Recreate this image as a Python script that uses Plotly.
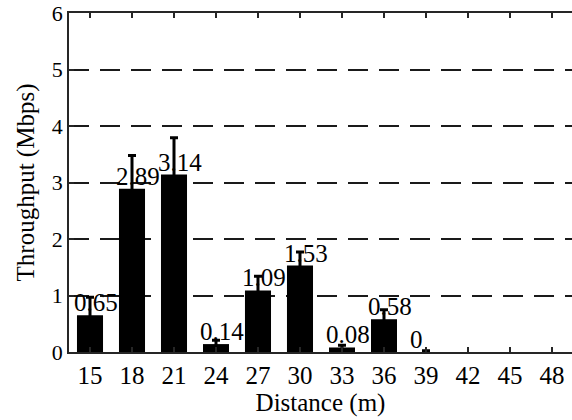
import plotly.graph_objects as go

distances = [15, 18, 21, 24, 27, 30, 33, 36, 39, 42, 45, 48]
throughput = [0.65, 2.89, 3.14, 0.14, 1.09, 1.53, 0.08, 0.58, 0, None, None, None]
errors = [0.32, 0.59, 0.65, 0.07, 0.25, 0.24, 0.04, 0.17, 0.02, None, None, None]
labels = ["0.65", "2.89", "3.14", "0.14", "1.09", "1.53", "0.08", "0.58", "0"]

FONT = "'Liberation Serif', 'Times New Roman', 'DejaVu Serif', serif"
FS = 25

fig = go.Figure()
fig.add_trace(go.Bar(
    x=distances, y=throughput, width=1.86,
    marker=dict(color="black", line=dict(width=0)),
    error_y=dict(type="data", array=errors, visible=True, color="black",
                 thickness=3, width=4),
))

for d, v, t in zip(distances, throughput, labels):
    fig.add_annotation(x=d, y=v, text=t, showarrow=False, xanchor="left",
                       yanchor="bottom", xshift=-18, yshift=-3,
                       font=dict(family=FONT, size=FS, color="black"))

fig.update_layout(
    width=572, height=420,
    margin=dict(l=69, r=0, t=13, b=68),
    plot_bgcolor="white", paper_bgcolor="white",
    showlegend=False,
    font=dict(family=FONT, size=FS, color="black"),
    xaxis=dict(range=[13.5, 49.43], tickvals=distances,
               ticktext=[str(d) for d in distances], automargin=False,
               showline=True, linecolor="#262626", linewidth=1.5, mirror="ticks",
               ticks="inside", ticklen=5, tickwidth=1.5, tickcolor="#262626",
               showgrid=False, zeroline=False,
               title=dict(text="Distance (m)", standoff=0,
                          font=dict(family=FONT, size=FS))),
    yaxis=dict(range=[0, 6], tickvals=[0, 1, 2, 3, 4, 5, 6], automargin=False,
               tickfont=dict(family=FONT, size=22),
               showline=True, linecolor="#262626", linewidth=1.5,
               ticks="inside", ticklen=5, tickwidth=1.5, tickcolor="#262626",
               showgrid=True, gridcolor="#1a1a1a", gridwidth=1.5,
               griddash="20px,11px", zeroline=False,
               title=dict(text="Throughput (Mbps)", standoff=10,
                          font=dict(family=FONT, size=FS))),
)

fig.write_html("out.html", config={"displayModeBar": False},
               post_script="document.body.style.margin='0';document.body.style.overflow='hidden';")
